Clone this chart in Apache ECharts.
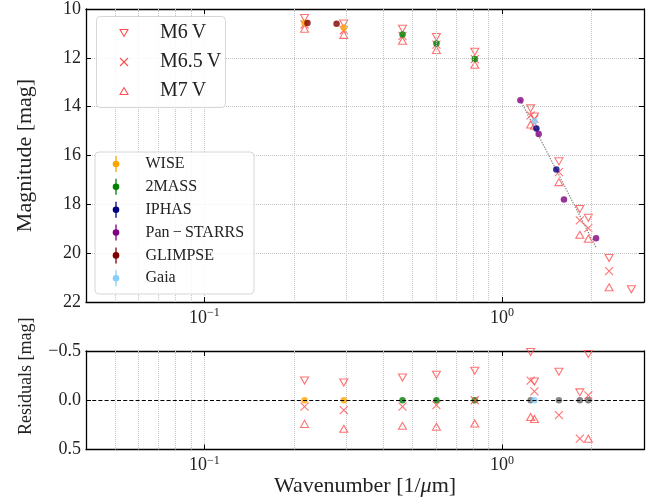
<!DOCTYPE html>
<html>
<head>
<meta charset="utf-8">
<script src="https://cdn.jsdelivr.net/npm/echarts@6/dist/echarts.min.js"></script>
<style>
html,body{margin:0;padding:0;background:#fff}
#chart{width:662px;height:502px}
</style>
</head>
<body>
<div id="chart"></div>
<script>
// Wavenumber columns (1/um) where the template spectra are sampled
const templateX = [0.217, 0.294, 0.463, 0.602, 0.81, 1.248, 1.285, 1.553, 1.826, 1.95, 2.29, 2.72];
// Template magnitudes
const magM6  = [10.37, 10.59, 10.81, 11.15, 11.75, 14.07, 14.40, 16.24, 18.19, 18.55, 20.20, 21.48];
const magM65 = [10.635, 10.87, 11.105, 11.46, 12.05, 14.36, 14.50, 16.68, 18.66, 18.97, 20.74, null];
const magM7  = [10.81, 11.06, 11.30, 11.68, 12.285, 14.73, 14.78, 17.09, 19.25, 19.41, 21.40, null];
// Observed magnitude that each template column is compared with, and where it comes from
const refMag    = [10.57, 10.77, 11.04, 11.41, 12.05, 14.56, 14.59, 16.53, 18.27, 19.02, null, null];
const refSource = ['WISE', 'WISE', '2MASS', '2MASS', '2MASS', 'interp', 'Gaia', 'interp', 'interp', 'interp', null, null];

// Photometry by survey: wavenumber (1/um) and magnitude
const wiseX = [0.217, 0.294],              wiseMag = [10.57, 10.77];
const tmassX = [0.463, 0.602, 0.81],       tmassMag = [11.04, 11.41, 12.05];
const iphasX = [1.305, 1.522],             iphasMag = [14.89, 16.57];
const ps1X = [1.153, 1.328, 1.615, 2.07],  ps1Mag = [13.74, 15.12, 17.80, 19.39];
const glimpseX = [0.222, 0.278],           glimpseMag = [10.57, 10.60];
const gaiaX = [1.285],                     gaiaMag = [14.59];
// Straight trend through the optical photometry
const trendX = [1.153, 2.07], trendMag = [13.74, 19.76];

// Minor decade positions that get a vertical grid line
const minorGridX = [0.05, 0.06, 0.07, 0.08, 0.09, 0.2, 0.3, 0.4, 0.5, 0.6, 0.7, 0.8, 0.9, 2];

const FONT = 'Liberation Serif';
const INK = '#222';
const RED = '#ff5050';
const GRIDC = '#c4c4c4';
const surveyColor = {
  'WISE': '#ffa500', '2MASS': '#008000', 'IPHAS': '#000080',
  'Pan\u2009\u2212\u2009STARRS': '#800080', 'GLIMPSE': '#800000', 'Gaia': '#87cefa', 'interp': '#666666'
};

const zip = (xs, ys) => xs.map((x, i) => [x, ys[i]]);
const resid = model => templateX.map((x, i) =>
  (model[i] == null || refMag[i] == null) ? null : [x, +(model[i] - refMag[i]).toFixed(3)]).filter(Boolean);

function powerLabel(v) {
  const e = Math.log10(v), r = Math.round(e);
  if (Math.abs(e - r) > 1e-6) return '';
  return '{b|10}{s|' + (r < 0 ? '\u2212' + (-r) : String(r)) + '}';
}
const powerRich = {
  b: { fontFamily: FONT, fontSize: 18, color: INK, lineHeight: 22 },
  s: { fontFamily: FONT, fontSize: 12, color: INK, verticalAlign: 'top', padding: [0, 0, 9, 0] }
};

const AXIS_LINE = { show: true, onZero: false, lineStyle: { color: '#000', width: 1.3 } };
const AXIS_TICK = { show: true, inside: true, length: 5, lineStyle: { color: '#000', width: 1 } };

function xAxisPair(grid, withName) {
  const base = {
    type: 'log', logBase: 10, min: 0.04, max: 3.0, gridIndex: grid,
    axisLine: AXIS_LINE, axisTick: AXIS_TICK, splitLine: { show: false }
  };
  const main = Object.assign({}, base, {
    position: 'bottom',
    axisLabel: { formatter: powerLabel, rich: powerRich, margin: 5, showMinLabel: false, showMaxLabel: false },
    splitLine: { show: true, lineStyle: { color: GRIDC, type: 'dotted', width: 1 } }
  });
  if (withName) {
    Object.assign(main, {
      name: '{t|Wavenumber [1/}{i|\u03bc}{t|m]}', nameLocation: 'middle', nameGap: 24,
      nameTextStyle: { rich: {
        t: { fontFamily: FONT, fontSize: 22, color: INK },
        i: { fontFamily: FONT, fontSize: 22, color: INK, fontStyle: 'italic' }
      } }
    });
  }
  const top = Object.assign({}, base, { position: 'top', axisLabel: { show: false } });
  return [main, top];
}

function yAxisPair(grid, cfg) {
  const base = {
    type: 'value', gridIndex: grid, inverse: true, min: cfg.min, max: cfg.max, interval: cfg.interval,
    axisLine: AXIS_LINE, axisTick: AXIS_TICK, splitLine: { show: false }
  };
  const main = Object.assign({}, base, {
    position: 'left',
    name: cfg.name, nameLocation: 'middle', nameGap: cfg.nameGap, nameRotate: 90,
    nameTextStyle: { fontFamily: FONT, fontSize: cfg.nameSize, color: INK, padding: cfg.namePad || 0 },
    axisLabel: { fontFamily: FONT, fontSize: 18, color: INK, margin: 5, formatter: cfg.fmt },
    splitLine: { show: cfg.grid, lineStyle: { color: GRIDC, type: 'dotted', width: 1 } }
  });
  const right = Object.assign({}, base, { position: 'right', axisLabel: { show: false } });
  return [main, right];
}

const minorLines = minorGridX.map(x => ({ xAxis: x }));
const minorMark = {
  silent: true, symbol: 'none', label: { show: false },
  lineStyle: { color: GRIDC, type: 'dotted', width: 1 }, data: minorLines
};

const X_SYMBOL = 'path://M0,0L10,10M10,0L0,10';
function templateSeries(name, data, kind, xi, yi) {
  const s = {
    name, type: 'scatter', xAxisIndex: xi, yAxisIndex: yi, data, z: 3,
    itemStyle: { color: 'rgba(0,0,0,0)', borderColor: RED, borderWidth: 1.1 }
  };
  if (kind === 'down') { s.symbol = 'triangle'; s.symbolRotate = 180; s.symbolSize = [8, 7]; }
  if (kind === 'up')   { s.symbol = 'triangle'; s.symbolSize = [8, 7]; }
  if (kind === 'x')    { s.symbol = X_SYMBOL; s.symbolSize = 8; }
  return s;
}
function photSeries(name, data, color, xi, yi, z) {
  return {
    name, type: 'scatter', xAxisIndex: xi, yAxisIndex: yi, data, z: z,
    symbol: 'circle', symbolSize: 6.5, itemStyle: { color: color }
  };
}

const zeroPts = src => templateX.map((x, i) => refSource[i] === src ? [x, 0] : null).filter(Boolean);

const series = [
  // magnitude panel
  Object.assign(templateSeries('M6 V', zip(templateX, magM6), 'down', 0, 0), { markLine: minorMark }),
  templateSeries('M6.5 V', zip(templateX, magM65), 'x', 0, 0),
  templateSeries('M7 V', zip(templateX, magM7), 'up', 0, 0),
  {
    name: 'trend', type: 'line', xAxisIndex: 0, yAxisIndex: 0, data: zip(trendX, trendMag),
    symbol: 'none', z: 2, lineStyle: { color: '#888', type: 'dotted', width: 1.3 }
  },
  photSeries('WISE', zip(wiseX, wiseMag), surveyColor['WISE'], 0, 0, 4),
  photSeries('2MASS', zip(tmassX, tmassMag), surveyColor['2MASS'], 0, 0, 4),
  photSeries('IPHAS', zip(iphasX, iphasMag), surveyColor['IPHAS'], 0, 0, 4),
  photSeries('Pan-STARRS', zip(ps1X, ps1Mag), surveyColor['Pan\u2009\u2212\u2009STARRS'], 0, 0, 4),
  photSeries('GLIMPSE', zip(glimpseX, glimpseMag), surveyColor['GLIMPSE'], 0, 0, 4),
  photSeries('Gaia', zip(gaiaX, gaiaMag), surveyColor['Gaia'], 0, 0, 4),
  // residual panel
  Object.assign(photSeries('WISE ref', zeroPts('WISE'), surveyColor['WISE'], 2, 2, 2), {
    markLine: {
      silent: true, symbol: 'none', label: { show: false }, z: 1,
      lineStyle: { color: GRIDC, type: 'dotted', width: 1 }, data: minorLines
    }
  }),
  Object.assign(photSeries('2MASS ref', zeroPts('2MASS'), surveyColor['2MASS'], 2, 2, 2), {
    markLine: {
      silent: true, symbol: 'none', label: { show: false },
      lineStyle: { color: '#000', type: [4, 2.2], width: 1.2 }, data: [{ yAxis: 0 }]
    }
  }),
  photSeries('interp ref', zeroPts('interp'), surveyColor['interp'], 2, 2, 2),
  photSeries('Gaia ref', zeroPts('Gaia'), surveyColor['Gaia'], 2, 2, 2),
  templateSeries('M6 V res', resid(magM6), 'down', 2, 2),
  templateSeries('M6.5 V res', resid(magM65), 'x', 2, 2),
  templateSeries('M7 V res', resid(magM7), 'up', 2, 2)
];

// Legend drawings
function triPts(cx, cy, up, w, h) {
  return up ? [[cx - w / 2, cy + h / 2], [cx + w / 2, cy + h / 2], [cx, cy - h / 2]]
            : [[cx - w / 2, cy - h / 2], [cx + w / 2, cy - h / 2], [cx, cy + h / 2]];
}
const legendA = [['M6\u2009V', 'down'], ['M6.5\u2009V', 'x'], ['M7\u2009V', 'up']];
const legendB = ['WISE', '2MASS', 'IPHAS', 'Pan\u2009\u2212\u2009STARRS', 'GLIMPSE', 'Gaia'];
const graphics = [];
graphics.push({ type: 'rect', shape: { x: 96.5, y: 16.5, width: 129, height: 91, r: 4 },
  style: { fill: 'rgba(255,255,255,0.85)', stroke: '#d6d6d6', lineWidth: 1 }, z: 20 });
legendA.forEach(([label, kind], i) => {
  const cy = 33 + i * 29, cx = 124;
  const st = { fill: 'none', stroke: RED, lineWidth: 1.1 };
  if (kind === 'x') {
    graphics.push({ type: 'polyline', shape: { points: [[cx - 4, cy - 4], [cx + 4, cy + 4]] }, style: st, z: 21 });
    graphics.push({ type: 'polyline', shape: { points: [[cx + 4, cy - 4], [cx - 4, cy + 4]] }, style: st, z: 21 });
  } else {
    graphics.push({ type: 'polygon', shape: { points: triPts(cx, cy, kind === 'up', 8, 7) }, style: st, z: 21 });
  }
  graphics.push({ type: 'text', x: 160, y: cy, z: 21,
    style: { text: label, fontFamily: FONT, fontSize: 20, fill: INK, verticalAlign: 'middle' } });
});
graphics.push({ type: 'rect', shape: { x: 95, y: 152, width: 159, height: 142, r: 4 },
  style: { fill: 'rgba(255,255,255,0.85)', stroke: '#d6d6d6', lineWidth: 1 }, z: 20 });
legendB.forEach((label, i) => {
  const cy = 164 + i * 22.85, cx = 116, col = surveyColor[label];
  graphics.push({ type: 'line', shape: { x1: cx, y1: cy - 8, x2: cx, y2: cy + 8 },
    style: { stroke: col, lineWidth: 1.3 }, z: 21 });
  graphics.push({ type: 'circle', shape: { cx: cx, cy: cy, r: 3.3 }, style: { fill: col }, z: 21 });
  graphics.push({ type: 'text', x: 145.5, y: cy, z: 21,
    style: { text: label, fontFamily: FONT, fontSize: 16, fill: INK, verticalAlign: 'middle' } });
});

const chart = echarts.init(document.getElementById('chart'), null, { renderer: 'canvas' });
chart.setOption({
  animation: false,
  backgroundColor: '#fff',
  grid: [
    { left: 86, right: 18, top: 6, height: 296 },
    { left: 86, right: 18, top: 351, height: 98.5 }
  ],
  xAxis: [...xAxisPair(0, false), ...xAxisPair(1, true)],
  yAxis: [
    ...yAxisPair(0, { min: 10, max: 22, interval: 2, name: 'Magnitude [mag]', nameGap: 50, nameSize: 22, grid: true,
      fmt: v => String(v) }),
    ...yAxisPair(1, { min: -0.5, max: 0.5, interval: 0.5, name: 'Residuals [mag]', nameGap: 51, nameSize: 18, grid: false,
      namePad: [0, 0, 0, 48], fmt: v => (v < 0 ? '\u2212' : '') + Math.abs(v).toFixed(1) })
  ],
  series: series,
  graphic: graphics
});
</script>
</body>
</html>
